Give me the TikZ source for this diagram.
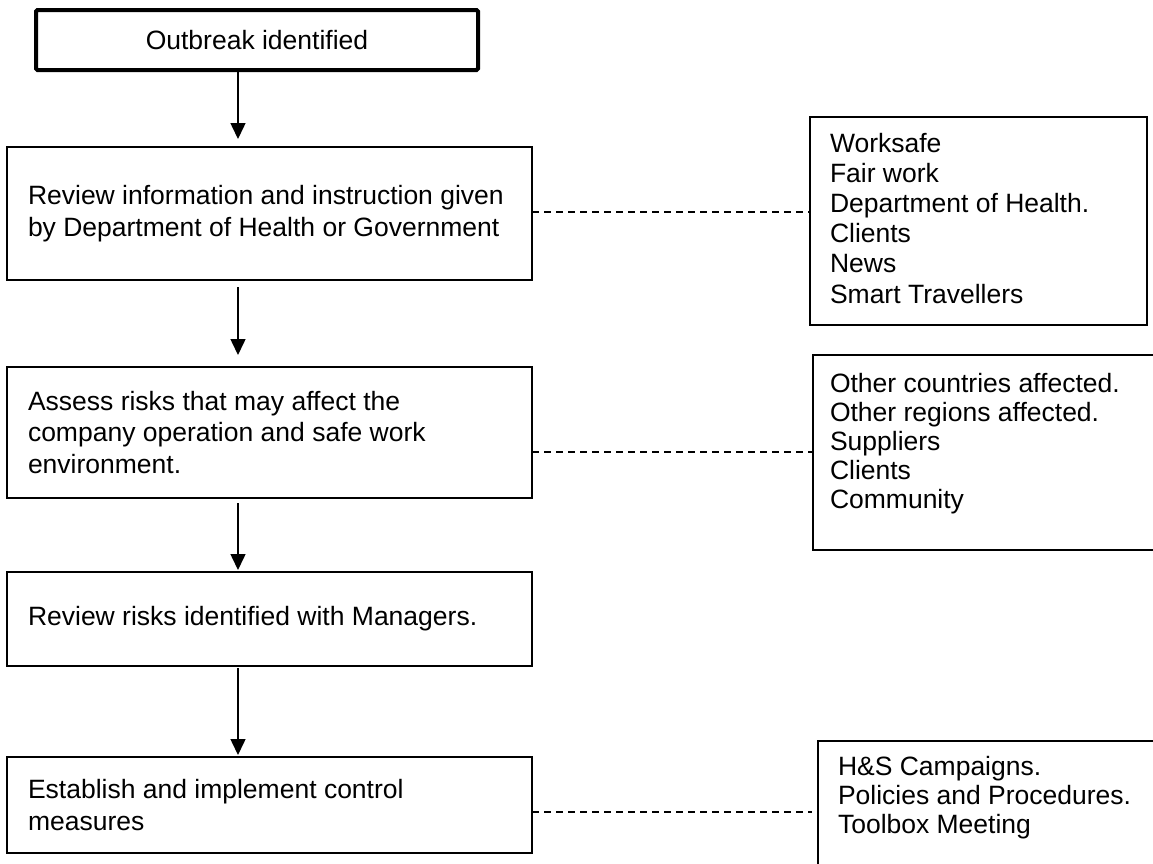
\documentclass[tikz,border=0pt]{standalone}
\usepackage{fontspec}
\setmainfont{Liberation Sans}
\usetikzlibrary{arrows.meta}
\newcommand{\natsp}{\spaceskip=0pt\xspaceskip=0pt\relax}
\tikzset{
  box/.style={draw, line width=1.3pt, rectangle, anchor=north west, inner sep=0pt, outer sep=0pt},
  stepbox/.style={box, minimum width=525pt, text width=483pt, inner xsep=21pt, align=left,
    font=\fontsize{26.5}{31.5}\selectfont},
  topbox/.style={draw, line width=4pt, rectangle, rounded corners=1.5pt, anchor=north west, inner sep=0pt, outer sep=0pt,
    font=\fontsize{26.5}{31}\selectfont},
  txt/.style={anchor=north west, inner sep=0pt, outer sep=0pt, align=left},
  arr/.style={line width=1.5pt, -{Triangle[length=16pt,width=15pt]}},
  dsh/.style={line width=1.4pt, dash pattern=on 7pt off 5pt}
}
\begin{document}
\begin{tikzpicture}[x=1pt,y=-1pt]
\useasboundingbox (0,0) rectangle (1153,863);
\clip (0,0) rectangle (1153,863);
% left column boxes
\node[topbox, minimum width=442pt, minimum height=60pt] (b1) at (36,10) {Outbreak identified};
\node[stepbox, minimum height=133pt] (b2) at (7,147)
  {\natsp Review information and instruction given\\by Department of Health or Government};
\node[stepbox, minimum height=131pt] (b3) at (7,367)
  {\natsp Assess risks that may affect the\\company operation and safe work\\environment.};
\node[stepbox, minimum height=94pt] (b4) at (7,572)
  {\natsp Review risks identified with Managers.};
\node[stepbox, minimum height=96pt] (b5) at (7,757)
  {\natsp Establish and implement control\\measures};
% right column boxes
\node[box, minimum width=337pt, minimum height=208pt] (r1) at (810,117) {};
\node[box, minimum width=360pt, minimum height=195pt] (r2) at (813,355) {};
\node[box, minimum width=360pt, minimum height=140pt] (r3) at (818,741) {};
% texts of the source boxes
\node[txt, font=\fontsize{26.5}{30.2}\selectfont] (s1) at (830,130.86)
  {\strut Worksafe\\Fair work\\Department of Health.\\Clients\\News\\Smart Travellers};
\node[txt, font=\fontsize{26.5}{29}\selectfont] (s2) at (830,371.7)
  {\strut Other countries affected.\\Other regions affected.\\Suppliers\\Clients\\Community};
\node[txt, font=\fontsize{26.5}{29}\selectfont] (s3) at (838,754.7)
  {\strut H\&S Campaigns.\\Policies and Procedures.\\Toolbox Meeting};
% arrow column
\coordinate (ax) at (238,0);
\draw[arr, shorten >=8pt] (b1.south -| ax) -- (b2.north -| ax);
\draw[arr, shorten <=7pt, shorten >=12pt] (b2.south -| ax) -- (b3.north -| ax);
\draw[arr, shorten <=5pt, shorten >=2pt] (b3.south -| ax) -- (b4.north -| ax);
\draw[arr, shorten <=2pt, shorten >=2pt] (b4.south -| ax) -- (b5.north -| ax);
% dashed links
\coordinate (d1) at (0,212);
\coordinate (d2) at (0,452);
\coordinate (d3) at (0,812);
\draw[dsh] (b2.east |- d1) -- (r1.west |- d1);
\draw[dsh] (b3.east |- d2) -- (r2.west |- d2);
\draw[dsh, shorten >=6pt] (b5.east |- d3) -- (r3.west |- d3);
\end{tikzpicture}
\end{document}
